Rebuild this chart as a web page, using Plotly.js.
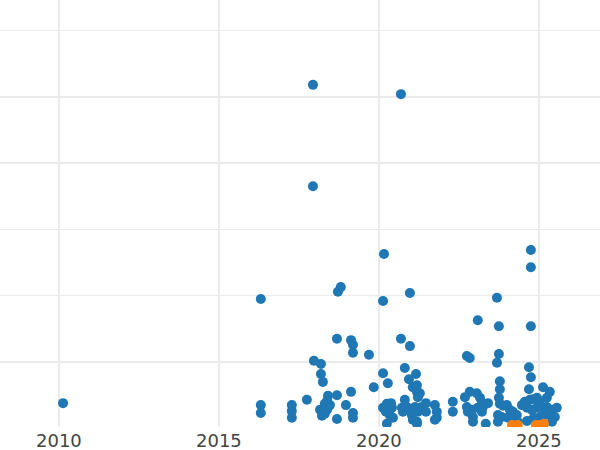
<!DOCTYPE html>
<html>
<head>
<meta charset="utf-8">
<script src="https://cdn.plot.ly/plotly-3.0.1.min.js"></script>
<style>html,body{margin:0;padding:0;background:#fff;}#chart{width:600px;height:450px;}</style>
</head>
<body>
<div id="chart"></div>
<script>
const blueX = [
  2010.13, 2016.31, 2016.31, 2016.31, 2017.28, 2017.28, 2017.28, 2017.75, 2017.94, 2017.94,
  2017.97, 2018.19, 2018.19, 2018.25, 2018.41, 2018.38, 2018.31, 2018.16, 2018.25, 2018.38,
  2018.22, 2018.31, 2018.41, 2018.47, 2018.69, 2018.69, 2018.69, 2018.72, 2018.81, 2018.97,
  2019.13, 2019.19, 2019.19, 2019.13, 2019.19, 2019.19, 2019.69, 2019.84, 2020.16, 2020.13,
  2020.13, 2020.28, 2020.13, 2020.25, 2020.38, 2020.22, 2020.34, 2020.25, 2020.44, 2020.41,
  2020.69, 2020.69, 2020.97, 2020.97, 2020.81, 2020.94, 2021.16, 2021.06, 2021.19, 2021.19,
  2021.28, 2021.22, 2020.81, 2020.72, 2020.75, 2020.88, 2020.97, 2021.03, 2021.06, 2021.19,
  2021.13, 2021.22, 2021.34, 2021.47, 2021.47, 2021.19, 2021.75, 2021.81, 2021.81, 2021.75,
  2022.31, 2022.31, 2022.75, 2022.84, 2022.69, 2022.84, 2022.75, 2022.78, 2022.91, 2022.94,
  2022.94, 2023.06, 2023.16, 2023.22, 2023.09, 2023.25, 2023.41, 2023.22, 2023.34, 2023.09,
  2023.69, 2023.75, 2023.75, 2023.69, 2023.78, 2023.78, 2023.75, 2023.78, 2023.88, 2024.00,
  2024.09, 2024.19, 2024.31, 2023.72, 2023.84, 2024.16, 2024.03, 2023.72, 2024.34, 2024.75,
  2024.75, 2024.75, 2024.69, 2024.75, 2024.69, 2025.13, 2025.34, 2025.25, 2024.47, 2024.56,
  2024.72, 2024.81, 2024.94, 2025.03, 2024.63, 2024.78, 2024.94, 2025.09, 2025.25, 2025.41,
  2025.56, 2025.19, 2025.34, 2025.50, 2025.03, 2024.84, 2025.41, 2024.63, 2025.06
];
const blueY = [
  3.6, 19.3, 3.3, 2.1, 3.3, 2.4, 1.4, 4.1, 51.6, 36.3,
  10.0, 9.5, 8.0, 6.8, 4.7, 3.9, 3.5, 2.6, 2.3, 2.6,
  1.7, 2.0, 3.0, 3.3, 4.8, 1.2, 13.3, 20.4, 21.1, 3.3,
  5.3, 2.1, 1.4, 13.1, 12.4, 11.2, 10.9, 6.0, 26.1, 19.0,
  8.1, 6.6, 2.9, 3.5, 3.6, 2.3, 1.8, 0.5, 1.4, 2.9,
  50.2, 13.3, 12.2, 20.2, 8.9, 7.2, 8.0, 6.0, 6.3, 5.3,
  5.1, 4.5, 4.1, 2.9, 2.3, 3.0, 2.6, 1.8, 1.1, 0.8,
  3.0, 2.3, 3.0, 3.6, 2.3, 0.5, 3.3, 2.3, 1.4, 1.1,
  3.8, 2.3, 10.7, 10.4, 4.5, 5.3, 3.0, 2.3, 2.6, 1.5,
  0.8, 5.1, 4.4, 3.6, 2.9, 3.0, 3.6, 2.3, 0.5, 16.1,
  19.5, 15.2, 11.0, 9.7, 6.9, 5.7, 4.4, 3.5, 3.2, 3.3,
  2.6, 2.3, 1.8, 1.8, 1.5, 1.5, 1.4, 0.8, 0.8, 26.7,
  24.1, 15.2, 9.0, 7.5, 5.7, 6.0, 5.3, 4.4, 3.3, 3.8,
  4.1, 4.2, 4.4, 3.8, 2.9, 2.6, 2.9, 3.0, 3.0, 2.6,
  2.9, 1.8, 1.8, 1.5, 1.5, 1.4, 0.8, 0.9, 0.6
];
const orangeX = [2024.16, 2024.34, 2024.91, 2025.03, 2025.16];
const orangeY = [0.3, 0.3, 0.3, 0.3, 0.5];

const xTickVals = [2010, 2015, 2020, 2025];
const xTickText = ['2010', '2015', '2020', '2025'];

const traces = [
  {x: blueX, y: blueY, type: 'scatter', mode: 'markers', marker: {color: '#1f77b4', size: 10}, showlegend: false},
  {x: orangeX, y: orangeY, type: 'scatter', mode: 'markers', marker: {color: '#ff7f0e', size: 10}, showlegend: false}
];

const layout = {
  width: 600, height: 450,
  margin: {l: 0, r: 0, t: 0, b: 23, pad: 0},
  paper_bgcolor: '#fff', plot_bgcolor: '#fff',
  font: {family: 'DejaVu Sans', size: 18, color: '#444'},
  showlegend: false,
  xaxis: {
    range: [2008.16, 2026.91], tickvals: xTickVals, ticktext: xTickText,
    showgrid: true, gridcolor: '#ebebeb', gridwidth: 1.5, zeroline: false, showline: false,
    ticks: '', automargin: false, ticklabelstandoff: 1
  },
  yaxis: {
    range: [0, 64.4], tick0: -0.2, dtick: 10, showticklabels: false,
    showgrid: true, gridcolor: '#ebebeb', gridwidth: 1.5, zeroline: false, showline: false,
    ticks: '', automargin: false
  }
};

Plotly.newPlot('chart', traces, layout, {displayModeBar: false, staticPlot: true});
</script>
</body>
</html>
